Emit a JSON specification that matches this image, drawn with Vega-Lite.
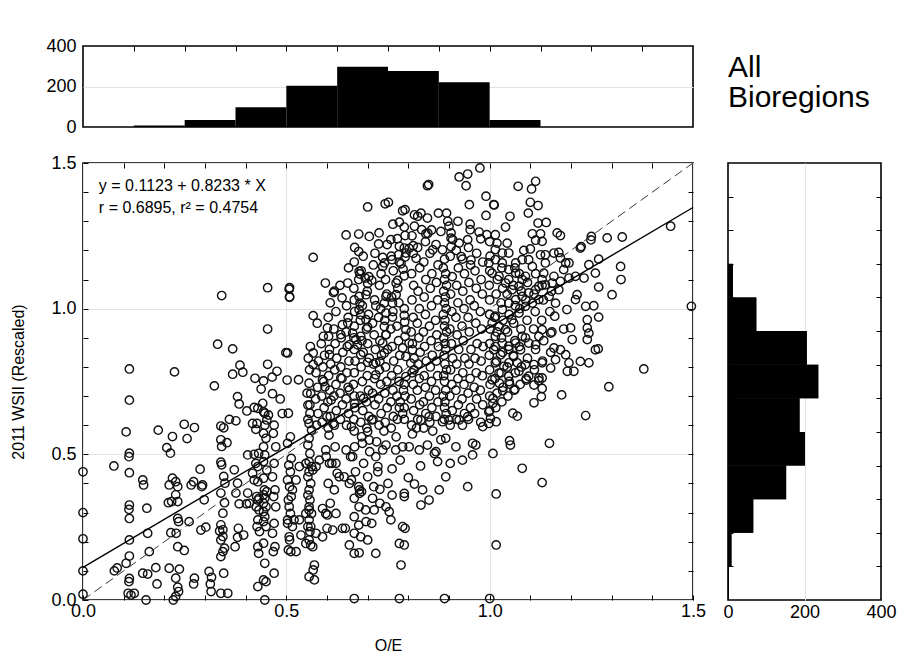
{
"$schema": "https://vega.github.io/schema/vega-lite/v6.json",
"background": "white",
"padding": {"left": 10, "top": 36, "right": 5, "bottom": 5},
"config": {
  "view": {"stroke": "black", "strokeWidth": 1.6},
  "axis": {"domain": false, "labelColor": "black", "tickColor": "black", "tickWidth": 1, "gridColor": "#e2e2e2", "gridWidth": 1, "labelFont": "Liberation Sans Narrow, Liberation Sans, sans-serif", "labelFontSize": 18, "titleFont": "Liberation Sans, sans-serif", "titleFontSize": 16, "titleFontWeight": "normal", "titleColor": "black", "labelOverlap": false, "labelFlush": false}
},
"datasets": {
  "xhist": [
    {"x0": 0.125, "x1": 0.25, "count": 7},
    {"x0": 0.25, "x1": 0.375, "count": 34},
    {"x0": 0.375, "x1": 0.5, "count": 97},
    {"x0": 0.5, "x1": 0.625, "count": 204},
    {"x0": 0.625, "x1": 0.75, "count": 297},
    {"x0": 0.75, "x1": 0.875, "count": 276},
    {"x0": 0.875, "x1": 1.0, "count": 221},
    {"x0": 1.0, "x1": 1.125, "count": 34}
  ],
  "yhist": [
    {"y0": 1.03846, "y1": 1.15385, "count": 13},
    {"y0": 0.92308, "y1": 1.03846, "count": 74},
    {"y0": 0.80769, "y1": 0.92308, "count": 206},
    {"y0": 0.69231, "y1": 0.80769, "count": 236},
    {"y0": 0.57692, "y1": 0.69231, "count": 187},
    {"y0": 0.46154, "y1": 0.57692, "count": 201},
    {"y0": 0.34615, "y1": 0.46154, "count": 152},
    {"y0": 0.23077, "y1": 0.34615, "count": 66},
    {"y0": 0.11538, "y1": 0.23077, "count": 9},
    {"y0": 0.0, "y1": 0.11538, "count": 2}
  ],
  "fit": [{"x": 0, "y": 0.1123}, {"x": 1.5, "y": 1.34725}],
  "diag": [{"x": 0, "y": 0}, {"x": 1.5, "y": 1.5}],
  "eq": [
    {"x": 0.039, "y": 1.421, "label": "y = 0.1123 + 0.8233 * X"},
    {"x": 0.039, "y": 1.346, "label": "r = 0.6895, r² = 0.4754"}
  ],
  "title": [{"label": "All\nBioregions"}],
  "points": [
{"x":0,"y":0.44},{"x":0,"y":0.30},{"x":0,"y":0.21},{"x":0,"y":0.10},{"x":0,"y":0.02},{"x":0.076,"y":0.46},{"x":0.077,"y":0.10},{"x":0.084,"y":0.11},{"x":0.106,"y":0.126},{"x":0.106,"y":0.577},
{"x":0.114,"y":0.793},{"x":0.114,"y":0.686},{"x":0.114,"y":0.504},{"x":0.113,"y":0.492},{"x":0.114,"y":0.437},{"x":0.114,"y":0.326},{"x":0.113,"y":0.311},{"x":0.114,"y":0.280},{"x":0.114,"y":0.206},{"x":0.114,"y":0.151},{"x":0.114,"y":0.074},{"x":0.113,"y":0.063},{"x":0.111,"y":0.023},{"x":0.118,"y":0.017},{"x":0.126,"y":0.023},
{"x":0.147,"y":0.412},{"x":0.149,"y":0.395},{"x":0.157,"y":0.315},{"x":0.159,"y":0.229},{"x":0.163,"y":0.166},{"x":0.147,"y":0.092},{"x":0.159,"y":0.089},{"x":0.179,"y":0.111},{"x":0.182,"y":0.055},{"x":0.155,"y":0.0},{"x":0.185,"y":0.583},
{"x":0.206,"y":0.523},{"x":0.215,"y":0.504},{"x":0.22,"y":0.561},{"x":0.212,"y":0.395},{"x":0.22,"y":0.418},{"x":0.228,"y":0.406},{"x":0.233,"y":0.389},{"x":0.228,"y":0.361},{"x":0.233,"y":0.338},{"x":0.21,"y":0.334},{"x":0.218,"y":0.338},{"x":0.233,"y":0.28},{"x":0.235,"y":0.269},{"x":0.216,"y":0.231},{"x":0.229,"y":0.229},{"x":0.233,"y":0.183},{"x":0.249,"y":0.17},{"x":0.212,"y":0.109},{"x":0.237,"y":0.106},{"x":0.228,"y":0.075},{"x":0.233,"y":0.044},{"x":0.235,"y":0.029},{"x":0.228,"y":0.012},{"x":0.225,"y":0.783},{"x":0.222,"y":0.0},
{"x":0.249,"y":0.603},{"x":0.274,"y":0.592},{"x":0.256,"y":0.554},{"x":0.266,"y":0.395},{"x":0.272,"y":0.406},{"x":0.288,"y":0.449},{"x":0.292,"y":0.389},{"x":0.294,"y":0.395},{"x":0.261,"y":0.269},{"x":0.298,"y":0.344},{"x":0.274,"y":0.075},{"x":0.272,"y":0.055},{"x":0.29,"y":0.24},{"x":0.302,"y":0.25},
{"x":0.31,"y":0.098},{"x":0.316,"y":0.078},{"x":0.313,"y":0.055},{"x":0.315,"y":0.029},{"x":0.339,"y":0.597},{"x":0.346,"y":0.591},{"x":0.36,"y":0.62},{"x":0.376,"y":0.615},{"x":0.339,"y":0.55},{"x":0.341,"y":0.527},{"x":0.354,"y":0.54},{"x":0.339,"y":0.473},{"x":0.341,"y":0.464},{"x":0.346,"y":0.424},{"x":0.349,"y":0.401},{"x":0.339,"y":0.367},{"x":0.348,"y":0.334},{"x":0.344,"y":0.298},{"x":0.339,"y":0.258},{"x":0.344,"y":0.241},{"x":0.336,"y":0.237},{"x":0.344,"y":0.218},{"x":0.339,"y":0.206},{"x":0.348,"y":0.178},{"x":0.344,"y":0.166},{"x":0.339,"y":0.149},{"x":0.346,"y":0.092},{"x":0.339,"y":0.023},{"x":0.356,"y":0.023},{"x":0.323,"y":0.735},{"x":0.331,"y":0.878},{"x":0.368,"y":0.862},{"x":0.341,"y":1.045},
{"x":0.372,"y":0.447},{"x":0.38,"y":0.401},{"x":0.376,"y":0.367},{"x":0.384,"y":0.33},{"x":0.382,"y":0.246},{"x":0.38,"y":0.215},{"x":0.395,"y":0.223},{"x":0.374,"y":0.183},{"x":0.405,"y":0.367},{"x":0.402,"y":0.33},{"x":0.409,"y":0.332},{"x":0.43,"y":0.406},{"x":0.405,"y":0.498},{"x":0.421,"y":0.5},{"x":0.425,"y":0.469},{"x":0.417,"y":0.435},{"x":0.421,"y":0.412},{"x":0.38,"y":0.698},{"x":0.384,"y":0.673},{"x":0.403,"y":0.649},{"x":0.421,"y":0.661},{"x":0.442,"y":0.675},{"x":0.386,"y":0.806},{"x":0.368,"y":0.775},{"x":0.393,"y":0.782},{"x":0.417,"y":0.606},{"x":0.425,"y":0.586},
{"x":0.444,"y":0.646},{"x":0.447,"y":0.641},{"x":0.452,"y":0.618},{"x":0.447,"y":0.6},{"x":0.444,"y":0.572},{"x":0.45,"y":0.555},{"x":0.444,"y":0.526},{"x":0.447,"y":0.498},{"x":0.444,"y":0.475},{"x":0.452,"y":0.446},{"x":0.444,"y":0.418},{"x":0.446,"y":0.378},{"x":0.452,"y":0.372},{"x":0.444,"y":0.361},{"x":0.447,"y":0.349},{"x":0.444,"y":0.332},{"x":0.45,"y":0.32},{"x":0.444,"y":0.303},{"x":0.447,"y":0.286},{"x":0.444,"y":0.269},{"x":0.45,"y":0.252},{"x":0.444,"y":0.195},{"x":0.447,"y":0.126},{"x":0.444,"y":0.069},{"x":0.45,"y":0.063},{"x":0.447,"y":0.0},
{"x":0.43,"y":0.658},{"x":0.428,"y":0.606},{"x":0.432,"y":0.503},{"x":0.43,"y":0.458},{"x":0.427,"y":0.355},{"x":0.433,"y":0.349},{"x":0.43,"y":0.343},{"x":0.426,"y":0.32},{"x":0.433,"y":0.309},{"x":0.43,"y":0.275},{"x":0.428,"y":0.252},{"x":0.434,"y":0.235},{"x":0.43,"y":0.183},{"x":0.432,"y":0.16},{"x":0.43,"y":0.046},
{"x":0.47,"y":0.6},{"x":0.468,"y":0.572},{"x":0.474,"y":0.526},{"x":0.47,"y":0.469},{"x":0.466,"y":0.423},{"x":0.472,"y":0.378},{"x":0.469,"y":0.355},{"x":0.474,"y":0.32},{"x":0.47,"y":0.263},{"x":0.466,"y":0.229},{"x":0.472,"y":0.183},{"x":0.468,"y":0.166},{"x":0.47,"y":0.092},
{"x":0.454,"y":0.93},{"x":0.454,"y":0.809},{"x":0.423,"y":0.761},{"x":0.444,"y":0.752},{"x":0.465,"y":0.765},{"x":0.477,"y":0.785},{"x":0.499,"y":0.849},{"x":0.454,"y":1.072},{"x":0.508,"y":1.072},{"x":0.508,"y":1.041},{"x":0.456,"y":0.635},{"x":0.466,"y":0.708},{"x":0.438,"y":0.724},{"x":0.485,"y":0.69},{"x":0.49,"y":0.64},
{"x":0.502,"y":0.755},{"x":0.505,"y":0.641},{"x":0.51,"y":0.56},{"x":0.503,"y":0.538},{"x":0.512,"y":0.486},{"x":0.506,"y":0.463},{"x":0.51,"y":0.44},{"x":0.503,"y":0.412},{"x":0.508,"y":0.389},{"x":0.512,"y":0.355},{"x":0.505,"y":0.343},{"x":0.51,"y":0.297},{"x":0.503,"y":0.263},{"x":0.508,"y":0.206},{"x":0.505,"y":0.172},{"x":0.511,"y":0.166},{"x":0.524,"y":0.412},{"x":0.515,"y":0.378},{"x":0.507,"y":0.32},{"x":0.503,"y":0.275},{"x":0.515,"y":0.252},{"x":0.507,"y":0.217},{"x":0.519,"y":0.275},{"x":0.532,"y":0.275},{"x":0.532,"y":0.458},{"x":0.507,"y":1.067},{"x":0.508,"y":1.039},{"x":0.503,"y":0.848},{"x":0.53,"y":0.756},{"x":0.524,"y":0.166},{"x":0.536,"y":0.223},{"x":0.548,"y":0.194},{"x":0.565,"y":0.183},{"x":0.56,"y":0.252},
{"x":0.556,"y":0.744},{"x":0.56,"y":0.709},{"x":0.553,"y":0.669},{"x":0.558,"y":0.641},{"x":0.556,"y":0.606},{"x":0.562,"y":0.583},{"x":0.556,"y":0.555},{"x":0.553,"y":0.532},{"x":0.558,"y":0.503},{"x":0.556,"y":0.475},{"x":0.562,"y":0.458},{"x":0.556,"y":0.44},{"x":0.553,"y":0.423},{"x":0.56,"y":0.4},{"x":0.556,"y":0.378},{"x":0.553,"y":0.36},{"x":0.558,"y":0.343},{"x":0.556,"y":0.32},{"x":0.562,"y":0.297},{"x":0.556,"y":0.275},{"x":0.553,"y":0.252},{"x":0.558,"y":0.235},{"x":0.556,"y":0.206},{"x":0.56,"y":0.189},{"x":0.569,"y":0.12},{"x":0.566,"y":0.103},{"x":0.556,"y":0.08},{"x":0.569,"y":0.069},{"x":0.566,"y":1.176},{"x":0.566,"y":0.976},{"x":0.566,"y":0.848},{"x":0.566,"y":0.808},{"x":0.591,"y":0.905},{"x":0.601,"y":0.934},{"x":0.604,"y":0.905},{"x":0.596,"y":1.088},{"x":0.589,"y":0.756},
{"x":0.595,"y":0.732},{"x":0.61,"y":0.686},{"x":0.6,"y":0.629},{"x":0.615,"y":0.606},{"x":0.605,"y":0.566},{"x":0.62,"y":0.526},{"x":0.598,"y":0.492},{"x":0.612,"y":0.469},{"x":0.625,"y":0.435},{"x":0.603,"y":0.4},{"x":0.618,"y":0.378},{"x":0.608,"y":0.332},{"x":0.622,"y":0.297},{"x":0.6,"y":0.246},{"x":0.614,"y":0.24},{"x":0.589,"y":0.217},{"x":0.618,"y":1.06},{"x":0.637,"y":1.037},{"x":0.616,"y":1.055},{"x":0.634,"y":0.911},{"x":0.638,"y":0.945},{"x":0.606,"y":0.842},{"x":0.634,"y":0.762},{"x":0.651,"y":0.951},{"x":0.651,"y":1.088},{"x":0.647,"y":1.253},{"x":0.597,"y":0.297},{"x":0.601,"y":0.292},{"x":0.589,"y":0.314},{"x":0.556,"y":0.309},{"x":0.573,"y":0.229},{"x":0.548,"y":0.297},
{"x":0.655,"y":0.721},{"x":0.69,"y":0.692},{"x":0.668,"y":0.675},{"x":0.71,"y":0.618},{"x":0.66,"y":0.595},{"x":0.7,"y":0.578},{"x":0.685,"y":0.56},{"x":0.722,"y":0.543},{"x":0.668,"y":0.526},{"x":0.705,"y":0.509},{"x":0.658,"y":0.492},{"x":0.69,"y":0.469},{"x":0.725,"y":0.458},{"x":0.67,"y":0.44},{"x":0.7,"y":0.423},{"x":0.66,"y":0.412},{"x":0.715,"y":0.389},{"x":0.685,"y":0.372},{"x":0.667,"y":0.349},{"x":0.73,"y":0.332},{"x":0.695,"y":0.309},{"x":0.667,"y":0.286},{"x":0.71,"y":0.263},{"x":0.667,"y":0.229},{"x":0.7,"y":0.206},{"x":0.667,"y":0.16},
{"x":0.667,"y":0.005},{"x":0.778,"y":0.005},{"x":0.889,"y":0.005},{"x":1.0,"y":0.005},
{"x":0.72,"y":0.16},{"x":0.679,"y":0.162},{"x":0.655,"y":0.189},{"x":0.683,"y":0.217},{"x":0.696,"y":0.269},{"x":0.678,"y":0.257},{"x":0.638,"y":0.246},{"x":0.645,"y":0.246},{"x":0.716,"y":0.309},{"x":0.712,"y":0.349},{"x":0.679,"y":0.32},{"x":0.678,"y":0.389},{"x":0.68,"y":0.378},{"x":0.68,"y":0.366},{"x":0.655,"y":0.4},{"x":0.642,"y":0.423},{"x":0.63,"y":0.423},
{"x":0.663,"y":0.916},{"x":0.671,"y":0.894},{"x":0.683,"y":0.905},{"x":0.655,"y":0.876},{"x":0.675,"y":0.876},{"x":0.683,"y":0.842},{"x":0.7,"y":0.816},{"x":0.72,"y":0.814},{"x":0.679,"y":1.042},{"x":0.681,"y":1.019},{"x":0.679,"y":0.997},{"x":0.683,"y":0.979},{"x":0.696,"y":1.048},{"x":0.72,"y":1.01},{"x":0.679,"y":1.128},{"x":0.681,"y":1.119},{"x":0.694,"y":1.105},{"x":0.71,"y":1.097},{"x":0.7,"y":1.086},{"x":0.678,"y":1.1},{"x":0.678,"y":1.196},{"x":0.678,"y":1.256},{"x":0.704,"y":1.248},{"x":0.727,"y":1.222},{"x":0.7,"y":1.349},{"x":0.696,"y":0.962},{"x":0.7,"y":0.937},{"x":0.72,"y":0.773},
{"x":0.743,"y":1.36},{"x":0.751,"y":1.365},{"x":0.786,"y":1.336},{"x":0.792,"y":1.34},{"x":0.757,"y":1.237},{"x":0.737,"y":1.176},{"x":0.741,"y":1.157},{"x":0.737,"y":1.145},{"x":0.76,"y":1.168},{"x":0.776,"y":1.185},{"x":0.794,"y":1.191},{"x":0.741,"y":1.019},{"x":0.761,"y":1.019},{"x":0.745,"y":1.042},{"x":0.77,"y":1.048},{"x":0.745,"y":0.985},{"x":0.761,"y":0.971},{"x":0.741,"y":0.939},{"x":0.745,"y":0.911},{"x":0.737,"y":0.882},{"x":0.741,"y":0.848},{"x":0.73,"y":0.819},{"x":0.778,"y":1.297},{"x":0.79,"y":1.28},{"x":0.792,"y":1.251},{"x":0.778,"y":1.214},{"x":0.79,"y":1.208},{"x":0.812,"y":1.216},{"x":0.792,"y":1.177},{"x":0.782,"y":1.154},{"x":0.787,"y":1.136},{"x":0.79,"y":1.113},{"x":0.774,"y":1.097},{"x":0.77,"y":1.088},
{"x":0.79,"y":1.0},{"x":0.79,"y":0.977},{"x":0.791,"y":0.954},{"x":0.794,"y":0.928},{"x":0.792,"y":0.905},{"x":0.802,"y":0.882},{"x":0.81,"y":0.859},{"x":0.786,"y":0.865},{"x":0.794,"y":0.836},{"x":0.806,"y":0.813},{"x":0.814,"y":0.79},{"x":0.794,"y":0.767},{"x":0.79,"y":0.74},{"x":0.788,"y":0.72},{"x":0.792,"y":0.7},{"x":0.78,"y":0.68},{"x":0.79,"y":0.66},{"x":0.786,"y":0.64},{"x":0.79,"y":0.62},
{"x":0.745,"y":0.32},{"x":0.753,"y":0.303},{"x":0.757,"y":0.275},{"x":0.79,"y":0.366},{"x":0.79,"y":0.355},{"x":0.786,"y":0.252},{"x":0.792,"y":0.246},{"x":0.778,"y":0.194},{"x":0.79,"y":0.189},{"x":0.782,"y":0.12},{"x":0.786,"y":0.526},{"x":0.769,"y":0.515},{"x":0.745,"y":0.532},{"x":0.737,"y":0.515},{"x":0.72,"y":0.492},{"x":0.704,"y":0.549},{"x":0.687,"y":0.538},{"x":0.663,"y":0.492},{"x":0.647,"y":0.515},{"x":0.622,"y":0.469},{"x":0.597,"y":0.515},{"x":0.606,"y":0.469},{"x":0.581,"y":0.48},{"x":0.573,"y":0.458},{"x":0.565,"y":0.446},{"x":0.548,"y":0.469},
{"x":0.76,"y":0.45},{"x":0.75,"y":0.4},{"x":0.77,"y":0.56},{"x":0.81,"y":0.57},{"x":0.83,"y":0.46},{"x":0.8,"y":0.42},{"x":0.86,"y":0.58},{"x":0.88,"y":0.55},{"x":0.82,"y":0.59},{"x":0.78,"y":0.48},{"x":0.74,"y":0.58},{"x":0.725,"y":0.44},{"x":0.73,"y":0.38},{"x":0.76,"y":0.36},
{"x":0.823,"y":1.317},{"x":0.831,"y":1.328},{"x":0.847,"y":1.311},{"x":0.815,"y":1.283},{"x":0.833,"y":1.271},{"x":0.843,"y":1.257},{"x":0.874,"y":1.328},{"x":0.894,"y":1.328},{"x":0.897,"y":1.3},{"x":0.9,"y":1.283},{"x":0.905,"y":1.26},{"x":0.909,"y":1.237},{"x":0.847,"y":1.422},{"x":0.85,"y":1.426},{"x":0.815,"y":1.322},{"x":0.848,"y":1.259},{"x":0.88,"y":1.265},{"x":0.905,"y":1.242},{"x":0.802,"y":1.207},{"x":0.819,"y":1.173},{"x":0.86,"y":1.202},{"x":0.884,"y":1.202},{"x":0.905,"y":1.213},
{"x":0.889,"y":1.17},{"x":0.886,"y":1.14},{"x":0.892,"y":1.12},{"x":0.889,"y":1.1},{"x":0.894,"y":1.08},{"x":0.887,"y":1.06},{"x":0.891,"y":1.04},{"x":0.889,"y":1.02},{"x":0.893,"y":1.0},{"x":0.886,"y":0.98},{"x":0.89,"y":0.96},{"x":0.889,"y":0.94},{"x":0.894,"y":0.92},{"x":0.887,"y":0.9},{"x":0.89,"y":0.88},{"x":0.892,"y":0.86},{"x":0.888,"y":0.84},{"x":0.89,"y":0.81},{"x":0.894,"y":0.79},{"x":0.887,"y":0.77},{"x":0.889,"y":0.75},{"x":0.892,"y":0.72},{"x":0.886,"y":0.7},{"x":0.89,"y":0.68},{"x":0.889,"y":0.66},{"x":0.893,"y":0.64},{"x":0.888,"y":0.62},
{"x":0.831,"y":0.618},{"x":0.851,"y":0.629},{"x":0.884,"y":0.612},{"x":0.9,"y":0.618},{"x":0.868,"y":0.509},{"x":0.847,"y":0.532},{"x":0.827,"y":0.515},{"x":0.802,"y":0.526},{"x":0.892,"y":0.555},{"x":0.872,"y":0.475},{"x":0.864,"y":0.503},{"x":0.835,"y":0.378},{"x":0.831,"y":0.326},{"x":0.851,"y":0.343},{"x":0.876,"y":0.378},{"x":0.815,"y":0.398},{"x":0.892,"y":0.423},{"x":0.903,"y":0.469},
{"x":0.925,"y":1.452},{"x":0.946,"y":1.462},{"x":0.942,"y":1.422},{"x":0.976,"y":1.483},{"x":0.95,"y":1.357},{"x":0.991,"y":1.386},{"x":0.991,"y":1.32},{"x":0.925,"y":1.225},{"x":0.946,"y":1.237},{"x":0.952,"y":1.271},{"x":0.974,"y":1.263},{"x":0.993,"y":1.254},{"x":0.954,"y":1.167},{"x":0.93,"y":1.179},{"x":1.011,"y":1.356},{"x":0.946,"y":0.389},{"x":0.958,"y":0.498},{"x":0.933,"y":0.48},{"x":0.925,"y":0.618},{"x":0.946,"y":0.629},{"x":0.983,"y":0.595},{"x":0.958,"y":0.538},{"x":0.966,"y":0.532},{"x":0.917,"y":0.526},
{"x":1.008,"y":0.503},{"x":1.016,"y":0.364},{"x":1.016,"y":0.189},{"x":1.08,"y":0.452},{"x":1.129,"y":0.403},{"x":1.049,"y":0.547},{"x":1.051,"y":0.532},{"x":1.147,"y":0.538},{"x":1.024,"y":0.744},{"x":1.049,"y":0.741},{"x":1.109,"y":0.738},{"x":1.121,"y":0.753},{"x":1.129,"y":0.726},{"x":1.09,"y":0.755},{"x":1.032,"y":0.718},{"x":1.062,"y":0.723},{"x":1.008,"y":0.692},{"x":1.008,"y":0.675},{"x":0.998,"y":0.646},{"x":1.002,"y":0.623},{"x":1.016,"y":0.612},{"x":0.998,"y":0.606},{"x":1.109,"y":0.677},{"x":1.127,"y":0.698},{"x":1.177,"y":0.704},{"x":1.293,"y":0.732},{"x":1.236,"y":0.633},{"x":1.057,"y":0.641},{"x":1.068,"y":0.631},
{"x":1.113,"y":1.437},{"x":1.103,"y":1.411},{"x":1.07,"y":1.42},{"x":1.01,"y":1.357},{"x":1.1,"y":1.365},{"x":1.119,"y":1.354},{"x":1.095,"y":1.328},{"x":1.05,"y":1.317},{"x":1.119,"y":1.294},{"x":1.139,"y":1.296},{"x":1.039,"y":1.28},{"x":1.105,"y":1.257},{"x":1.125,"y":1.257},{"x":1.129,"y":1.231},{"x":1.113,"y":1.235},{"x":1.166,"y":1.26},{"x":1.174,"y":1.251},{"x":1.014,"y":1.254},{"x":1.043,"y":1.225},{"x":1.018,"y":1.225},{"x":1.084,"y":1.2},{"x":1.1,"y":1.205},{"x":1.125,"y":1.185},{"x":1.137,"y":1.185},{"x":1.158,"y":1.191},{"x":1.17,"y":1.193},{"x":1.174,"y":1.174},{"x":1.25,"y":1.248},{"x":1.289,"y":1.243},{"x":1.326,"y":1.246},{"x":1.445,"y":1.283},{"x":1.223,"y":1.208},{"x":1.268,"y":1.17},{"x":1.244,"y":1.151},{"x":1.232,"y":1.105},{"x":1.26,"y":1.122},{"x":1.322,"y":1.145},{"x":1.323,"y":1.1},{"x":1.268,"y":1.074},{"x":1.301,"y":1.048},{"x":1.187,"y":1.157},{"x":1.195,"y":1.157},{"x":1.182,"y":1.134},{"x":1.137,"y":1.157},{"x":1.133,"y":1.122},{"x":1.158,"y":1.111},{"x":1.174,"y":1.094},{"x":1.195,"y":1.105},{"x":1.211,"y":1.111},{"x":1.215,"y":1.048},{"x":1.211,"y":1.031},{"x":1.236,"y":1.008},{"x":1.256,"y":1.01},{"x":1.268,"y":0.971},{"x":1.496,"y":1.008},{"x":1.379,"y":0.793},{"x":1.225,"y":1.213},{"x":1.249,"y":1.236},
{"x":1.16,"y":0.974},{"x":1.19,"y":0.997},{"x":1.182,"y":0.93},{"x":1.199,"y":0.934},{"x":1.203,"y":0.894},{"x":1.24,"y":0.962},{"x":1.24,"y":0.934},{"x":1.244,"y":0.916},{"x":1.24,"y":0.894},{"x":1.26,"y":0.859},{"x":1.267,"y":0.862},{"x":1.223,"y":0.819},{"x":1.244,"y":0.814},{"x":1.174,"y":0.859},{"x":1.187,"y":0.842},{"x":1.195,"y":0.814},{"x":1.162,"y":0.825},{"x":1.158,"y":0.865},{"x":1.15,"y":0.916},{"x":1.129,"y":0.928},{"x":1.121,"y":0.905},{"x":1.096,"y":0.882},{"x":1.113,"y":0.876},{"x":1.08,"y":0.905},{"x":1.076,"y":0.859},{"x":1.059,"y":0.836},{"x":1.047,"y":0.814},{"x":1.035,"y":0.802},{"x":1.014,"y":0.814},{"x":1.088,"y":0.808},{"x":1.109,"y":0.808},{"x":1.129,"y":0.814},{"x":1.096,"y":0.768},{"x":1.121,"y":0.762},{"x":1.129,"y":0.762},{"x":1.207,"y":0.785},{"x":1.191,"y":0.785},{"x":1.15,"y":0.796},
{"x":1.129,"y":1.1},{"x":1.137,"y":1.082},{"x":1.121,"y":1.077},{"x":1.113,"y":1.065},{"x":1.096,"y":1.054},{"x":1.08,"y":1.042},{"x":1.064,"y":1.031},{"x":1.047,"y":1.019},{"x":1.031,"y":0.997},{"x":1.014,"y":0.974},{"x":1.006,"y":0.951},{"x":1.023,"y":0.939},{"x":1.039,"y":0.928},{"x":1.055,"y":0.962},{"x":1.072,"y":0.985},{"x":1.088,"y":1.008},{"x":1.105,"y":1.019},{"x":1.121,"y":1.031},{"x":1.146,"y":1.042},{"x":1.162,"y":1.019},{"x":1.17,"y":1.065},{"x":1.154,"y":1.088},{"x":1.08,"y":1.1},{"x":1.064,"y":1.122},{"x":1.047,"y":1.134},{"x":1.031,"y":1.157},{"x":1.014,"y":1.168},{"x":0.998,"y":1.157},{"x":1.006,"y":1.122},{"x":1.023,"y":1.111},{"x":1.039,"y":1.088},{"x":1.055,"y":1.065},{"x":1.072,"y":1.077},{"x":1.088,"y":1.111},{"x":1.105,"y":1.145},{"x":1.096,"y":1.168},{"x":1.08,"y":1.168},{"x":1.064,"y":1.157},{"x":1.047,"y":1.191},{"x":1.031,"y":1.191},{"x":1.014,"y":1.203},
{"x":1.014,"y":0.905},{"x":1.031,"y":0.882},{"x":1.047,"y":0.871},{"x":1.064,"y":0.882},{"x":1.01,"y":0.859},{"x":1.027,"y":0.842},{"x":1.068,"y":0.814},{"x":1.072,"y":0.785},{"x":1.047,"y":0.768},{"x":1.023,"y":0.779},{"x":1.006,"y":0.756},
{"x":0.553,"y":0.62},{"x":0.558,"y":0.67},{"x":0.551,"y":0.71},{"x":0.557,"y":0.79},{"x":0.554,"y":0.83},{"x":0.559,"y":0.87},
{"x":0.574,"y":0.6},{"x":0.578,"y":0.64},{"x":0.572,"y":0.69},{"x":0.577,"y":0.73},{"x":0.573,"y":0.78},{"x":0.579,"y":0.82},{"x":0.576,"y":0.95},
{"x":0.588,"y":0.61},{"x":0.593,"y":0.66},{"x":0.587,"y":0.7},{"x":0.592,"y":0.75},{"x":0.59,"y":0.8},{"x":0.594,"y":0.84},{"x":0.586,"y":0.88},
{"x":0.603,"y":0.59},{"x":0.608,"y":0.63},{"x":0.602,"y":0.68},{"x":0.607,"y":0.72},{"x":0.604,"y":0.77},{"x":0.609,"y":0.81},{"x":0.606,"y":0.86},{"x":0.603,"y":0.97},{"x":0.608,"y":1.02},
{"x":0.618,"y":0.6},{"x":0.623,"y":0.65},{"x":0.617,"y":0.7},{"x":0.622,"y":0.74},{"x":0.619,"y":0.79},{"x":0.624,"y":0.83},{"x":0.62,"y":0.88},{"x":0.617,"y":0.93},{"x":0.622,"y":0.99},
{"x":0.633,"y":0.62},{"x":0.638,"y":0.67},{"x":0.632,"y":0.71},{"x":0.637,"y":0.76},{"x":0.634,"y":0.8},{"x":0.639,"y":0.85},{"x":0.635,"y":0.9},{"x":0.632,"y":1.08},
{"x":0.648,"y":0.6},{"x":0.653,"y":0.64},{"x":0.647,"y":0.69},{"x":0.652,"y":0.73},{"x":0.649,"y":0.78},{"x":0.654,"y":0.82},{"x":0.65,"y":0.87},{"x":0.647,"y":0.92},{"x":0.652,"y":0.97},{"x":0.648,"y":1.01},{"x":0.653,"y":1.14},
{"x":0.667,"y":0.58},{"x":0.666,"y":0.62},{"x":0.668,"y":0.66},{"x":0.667,"y":0.7},{"x":0.665,"y":0.74},{"x":0.667,"y":0.78},{"x":0.669,"y":0.82},{"x":0.667,"y":0.86},{"x":0.666,"y":0.9},{"x":0.667,"y":0.94},{"x":0.668,"y":0.99},{"x":0.667,"y":1.03},{"x":0.666,"y":1.07},{"x":0.667,"y":1.16},{"x":0.668,"y":1.21},
{"x":0.683,"y":0.61},{"x":0.688,"y":0.65},{"x":0.682,"y":0.7},{"x":0.687,"y":0.75},{"x":0.684,"y":0.8},{"x":0.689,"y":0.85},{"x":0.686,"y":0.89},{"x":0.682,"y":0.96},{"x":0.687,"y":1.01},{"x":0.684,"y":1.13},{"x":0.689,"y":1.18},
{"x":0.698,"y":0.59},{"x":0.703,"y":0.63},{"x":0.697,"y":0.68},{"x":0.702,"y":0.72},{"x":0.699,"y":0.77},{"x":0.704,"y":0.83},{"x":0.7,"y":0.88},{"x":0.697,"y":0.93},{"x":0.702,"y":0.98},{"x":0.699,"y":1.06},{"x":0.703,"y":1.11},
{"x":0.713,"y":0.62},{"x":0.718,"y":0.67},{"x":0.712,"y":0.71},{"x":0.717,"y":0.76},{"x":0.714,"y":0.81},{"x":0.719,"y":0.86},{"x":0.716,"y":0.91},{"x":0.712,"y":0.95},{"x":0.717,"y":1.03},{"x":0.714,"y":1.15},{"x":0.718,"y":1.19},
{"x":0.728,"y":0.6},{"x":0.733,"y":0.64},{"x":0.727,"y":0.69},{"x":0.732,"y":0.74},{"x":0.729,"y":0.79},{"x":0.734,"y":0.84},{"x":0.73,"y":0.89},{"x":0.727,"y":0.97},{"x":0.732,"y":1.0},{"x":0.729,"y":1.08},{"x":0.733,"y":1.12},{"x":0.728,"y":1.26},
{"x":0.743,"y":0.61},{"x":0.748,"y":0.66},{"x":0.742,"y":0.71},{"x":0.747,"y":0.75},{"x":0.744,"y":0.8},{"x":0.749,"y":0.86},{"x":0.745,"y":0.91},{"x":0.742,"y":0.96},{"x":0.747,"y":1.05},{"x":0.744,"y":1.1},{"x":0.748,"y":1.22},
{"x":0.758,"y":0.59},{"x":0.763,"y":0.63},{"x":0.757,"y":0.68},{"x":0.762,"y":0.72},{"x":0.759,"y":0.77},{"x":0.764,"y":0.82},{"x":0.76,"y":0.87},{"x":0.757,"y":0.93},{"x":0.762,"y":0.99},{"x":0.759,"y":1.04},{"x":0.763,"y":1.13},{"x":0.758,"y":1.18},{"x":0.762,"y":1.29},
{"x":0.773,"y":0.62},{"x":0.778,"y":0.66},{"x":0.772,"y":0.7},{"x":0.777,"y":0.75},{"x":0.774,"y":0.79},{"x":0.779,"y":0.84},{"x":0.776,"y":0.89},{"x":0.772,"y":0.94},{"x":0.777,"y":1.02},{"x":0.774,"y":1.07},{"x":0.778,"y":1.16},{"x":0.773,"y":1.24},
{"x":0.808,"y":0.6},{"x":0.813,"y":0.65},{"x":0.807,"y":0.69},{"x":0.812,"y":0.74},{"x":0.809,"y":0.78},{"x":0.814,"y":0.83},{"x":0.81,"y":0.88},{"x":0.807,"y":0.92},{"x":0.812,"y":0.97},{"x":0.809,"y":1.03},{"x":0.813,"y":1.08},{"x":0.808,"y":1.12},{"x":0.812,"y":1.19},{"x":0.809,"y":1.25},
{"x":0.823,"y":0.62},{"x":0.828,"y":0.67},{"x":0.822,"y":0.72},{"x":0.827,"y":0.76},{"x":0.824,"y":0.81},{"x":0.829,"y":0.85},{"x":0.826,"y":0.9},{"x":0.822,"y":0.95},{"x":0.827,"y":1.0},{"x":0.824,"y":1.06},{"x":0.828,"y":1.14},{"x":0.823,"y":1.21},
{"x":0.838,"y":0.59},{"x":0.843,"y":0.64},{"x":0.837,"y":0.68},{"x":0.842,"y":0.73},{"x":0.839,"y":0.77},{"x":0.844,"y":0.82},{"x":0.84,"y":0.87},{"x":0.837,"y":0.92},{"x":0.842,"y":0.98},{"x":0.839,"y":1.04},{"x":0.843,"y":1.1},{"x":0.838,"y":1.16},{"x":0.842,"y":1.23},
{"x":0.853,"y":0.61},{"x":0.858,"y":0.66},{"x":0.852,"y":0.7},{"x":0.857,"y":0.75},{"x":0.854,"y":0.8},{"x":0.859,"y":0.84},{"x":0.856,"y":0.89},{"x":0.852,"y":0.94},{"x":0.857,"y":1.01},{"x":0.854,"y":1.07},{"x":0.858,"y":1.12},{"x":0.853,"y":1.19},{"x":0.857,"y":1.27},
{"x":0.868,"y":0.63},{"x":0.873,"y":0.68},{"x":0.867,"y":0.72},{"x":0.872,"y":0.77},{"x":0.869,"y":0.82},{"x":0.874,"y":0.87},{"x":0.87,"y":0.91},{"x":0.867,"y":0.96},{"x":0.872,"y":1.03},{"x":0.869,"y":1.09},{"x":0.873,"y":1.15},{"x":0.868,"y":1.22},
{"x":0.903,"y":0.6},{"x":0.908,"y":0.65},{"x":0.902,"y":0.7},{"x":0.907,"y":0.74},{"x":0.904,"y":0.79},{"x":0.909,"y":0.83},{"x":0.906,"y":0.88},{"x":0.902,"y":0.93},{"x":0.907,"y":0.99},{"x":0.904,"y":1.05},{"x":0.908,"y":1.11},{"x":0.903,"y":1.18},
{"x":0.918,"y":0.62},{"x":0.923,"y":0.67},{"x":0.917,"y":0.72},{"x":0.922,"y":0.76},{"x":0.919,"y":0.81},{"x":0.924,"y":0.86},{"x":0.92,"y":0.91},{"x":0.917,"y":0.97},{"x":0.922,"y":1.02},{"x":0.919,"y":1.08},{"x":0.923,"y":1.14},{"x":0.918,"y":1.2},{"x":0.922,"y":1.3},
{"x":0.933,"y":0.6},{"x":0.938,"y":0.64},{"x":0.932,"y":0.69},{"x":0.937,"y":0.74},{"x":0.934,"y":0.78},{"x":0.939,"y":0.83},{"x":0.935,"y":0.89},{"x":0.932,"y":0.94},{"x":0.937,"y":1.0},{"x":0.934,"y":1.06},{"x":0.938,"y":1.12},{"x":0.933,"y":1.17},
{"x":0.948,"y":0.62},{"x":0.953,"y":0.66},{"x":0.947,"y":0.71},{"x":0.952,"y":0.76},{"x":0.949,"y":0.81},{"x":0.954,"y":0.86},{"x":0.95,"y":0.92},{"x":0.947,"y":0.97},{"x":0.952,"y":1.03},{"x":0.949,"y":1.09},{"x":0.953,"y":1.15},{"x":0.948,"y":1.21},{"x":0.952,"y":1.29},
{"x":0.963,"y":0.64},{"x":0.968,"y":0.69},{"x":0.962,"y":0.73},{"x":0.967,"y":0.78},{"x":0.964,"y":0.83},{"x":0.969,"y":0.88},{"x":0.966,"y":0.95},{"x":0.962,"y":1.01},{"x":0.967,"y":1.07},{"x":0.964,"y":1.13},{"x":0.968,"y":1.19},
{"x":0.978,"y":0.61},{"x":0.983,"y":0.67},{"x":0.977,"y":0.72},{"x":0.982,"y":0.77},{"x":0.979,"y":0.82},{"x":0.984,"y":0.87},{"x":0.98,"y":0.93},{"x":0.977,"y":0.99},{"x":0.982,"y":1.05},{"x":0.979,"y":1.1},{"x":0.983,"y":1.16},{"x":0.978,"y":1.24},
{"x":1.0,"y":0.65},{"x":1.0,"y":0.7},{"x":1.001,"y":0.74},{"x":1.0,"y":0.79},{"x":0.999,"y":0.84},{"x":1.0,"y":0.88},{"x":1.001,"y":0.93},{"x":1.0,"y":0.98},{"x":1.0,"y":1.03},{"x":0.999,"y":1.08},{"x":1.0,"y":1.13},{"x":1.001,"y":1.18},{"x":1.0,"y":1.23},
{"x":1.015,"y":0.66},{"x":1.018,"y":0.71},{"x":1.013,"y":0.76},{"x":1.017,"y":0.82},{"x":1.014,"y":0.87},{"x":1.018,"y":0.92},{"x":1.012,"y":0.97},{"x":1.016,"y":1.05},{"x":1.019,"y":1.1},
{"x":1.03,"y":0.68},{"x":1.033,"y":0.73},{"x":1.028,"y":0.78},{"x":1.032,"y":0.85},{"x":1.029,"y":0.9},{"x":1.033,"y":0.96},{"x":1.028,"y":1.02},{"x":1.032,"y":1.07},{"x":1.03,"y":1.14},
{"x":1.045,"y":0.7},{"x":1.048,"y":0.75},{"x":1.043,"y":0.8},{"x":1.047,"y":0.86},{"x":1.044,"y":0.92},{"x":1.048,"y":0.98},{"x":1.043,"y":1.05},{"x":1.047,"y":1.1},
{"x":1.06,"y":0.72},{"x":1.063,"y":0.78},{"x":1.058,"y":0.84},{"x":1.062,"y":0.89},{"x":1.059,"y":0.95},{"x":1.063,"y":1.01},{"x":1.058,"y":1.08},{"x":1.062,"y":1.14},
{"x":1.075,"y":0.74},{"x":1.078,"y":0.8},{"x":1.073,"y":0.87},{"x":1.077,"y":0.93},{"x":1.074,"y":1.0},{"x":1.078,"y":1.06},{"x":1.073,"y":1.12},
{"x":1.09,"y":0.76},{"x":1.093,"y":0.83},{"x":1.088,"y":0.9},{"x":1.092,"y":0.96},{"x":1.089,"y":1.03},{"x":1.093,"y":1.09},
{"x":1.11,"y":0.79},{"x":1.113,"y":0.86},{"x":1.108,"y":0.93},{"x":1.112,"y":0.99},{"x":1.109,"y":1.05},{"x":1.113,"y":1.12},
{"x":1.13,"y":0.82},{"x":1.133,"y":0.89},{"x":1.128,"y":0.96},{"x":1.132,"y":1.03},{"x":1.129,"y":1.08},
{"x":1.15,"y":0.85},{"x":1.153,"y":0.92},{"x":1.148,"y":0.99},{"x":1.152,"y":1.06}
  ]
},
"columns": 2,
"spacing": {"row": 36, "column": 35},
"bounds": "flush",
"align": "each",
"concat": [
  {
    "width": 610, "height": 81,
    "data": {"name": "xhist"},
    "mark": {"type": "rect", "color": "black"},
    "encoding": {
      "x": {"field": "x0", "type": "quantitative", "scale": {"domain": [0, 1.5], "nice": false, "zero": false},
            "axis": {"orient": "top", "values": [0.125, 0.25, 0.375, 0.5, 0.625, 0.75, 0.875, 1, 1.125, 1.25, 1.375], "labels": false, "title": null, "grid": false, "tickSize": -5}},
      "x2": {"field": "x1"},
      "y": {"field": "count", "type": "quantitative", "scale": {"domain": [0, 400], "nice": false},
            "axis": {"values": [0, 200, 400], "title": null, "ticks": false, "grid": true, "gridOpacity": {"condition": {"test": "datum.value == 200", "value": 1}, "value": 0}, "labelPadding": 7}},
      "y2": {"datum": 0}
    }
  },
  {
    "width": 153, "height": 81,
    "view": {"stroke": null},
    "data": {"name": "title"},
    "mark": {"type": "text", "align": "left", "baseline": "middle", "font": "Liberation Sans, sans-serif", "fontSize": 30, "lineHeight": 30, "lineBreak": "\n", "color": "black"},
    "encoding": {
      "x": {"datum": 0, "type": "quantitative", "scale": {"domain": [0, 1]}, "axis": null},
      "y": {"datum": 0.73, "type": "quantitative", "scale": {"domain": [0, 1]}, "axis": null},
      "text": {"field": "label"}
    }
  },
  {
    "width": 610, "height": 437,
    "layer": [
      {
        "data": {"name": "points"},
        "mark": {"type": "point", "shape": "circle", "filled": false, "stroke": "#111111", "strokeWidth": 1.4, "size": 70, "opacity": 1},
        "encoding": {
          "x": {"field": "x", "type": "quantitative", "scale": {"domain": [0, 1.5], "nice": false, "zero": false},
                "axis": {"orient": "bottom", "values": [0, 0.1, 0.2, 0.3, 0.4, 0.5, 0.6, 0.7, 0.8, 0.9, 1, 1.1, 1.2, 1.3, 1.4, 1.5],
                         "labelExpr": "round(datum.value*10) % 5 == 0 ? format(datum.value, '.1f') : ''",
                         "grid": true, "gridOpacity": {"condition": {"test": "round(datum.value*10) % 5 == 0", "value": 1}, "value": 0},
                         "tickSize": -5, "labelPadding": 7, "title": "O/E", "titlePadding": 17}},
          "y": {"field": "y", "type": "quantitative", "scale": {"domain": [0, 1.5], "nice": false, "zero": false},
                "axis": {"orient": "left", "values": [0, 0.1, 0.2, 0.3, 0.4, 0.5, 0.6, 0.7, 0.8, 0.9, 1, 1.1, 1.2, 1.3, 1.4, 1.5],
                         "labelExpr": "round(datum.value*10) % 5 == 0 ? format(datum.value, '.1f') : ''",
                         "grid": true, "gridOpacity": {"condition": {"test": "round(datum.value*10) % 5 == 0", "value": 1}, "value": 0},
                         "tickSize": -5, "labelPadding": 12, "title": "2011 WSII (Rescaled)", "titlePadding": 24}}
        }
      },
      {
        "data": {"name": "fit"},
        "mark": {"type": "line", "color": "black", "strokeWidth": 1.4},
        "encoding": {
          "x": {"field": "x", "type": "quantitative", "scale": {"domain": [0, 1.5], "nice": false, "zero": false},
                "axis": {"orient": "top", "values": [0.1, 0.2, 0.3, 0.4, 0.5, 0.6, 0.7, 0.8, 0.9, 1, 1.1, 1.2, 1.3, 1.4], "labels": false, "grid": false, "tickSize": -5, "title": null}},
          "y": {"field": "y", "type": "quantitative", "scale": {"domain": [0, 1.5], "nice": false, "zero": false},
                "axis": {"orient": "right", "values": [0.1, 0.2, 0.3, 0.4, 0.5, 0.6, 0.7, 0.8, 0.9, 1, 1.1, 1.2, 1.3, 1.4], "labels": false, "grid": false, "tickSize": -5, "title": null}}
        }
      },
      {
        "data": {"name": "diag"},
        "mark": {"type": "line", "color": "#222222", "strokeWidth": 0.9, "strokeDash": [9, 5]},
        "encoding": {
          "x": {"field": "x", "type": "quantitative", "axis": null},
          "y": {"field": "y", "type": "quantitative", "axis": null}
        }
      },
      {
        "data": {"name": "eq"},
        "mark": {"type": "text", "align": "left", "baseline": "middle", "font": "Liberation Sans, sans-serif", "fontSize": 16, "color": "black"},
        "encoding": {
          "x": {"field": "x", "type": "quantitative", "axis": null},
          "y": {"field": "y", "type": "quantitative", "axis": null},
          "text": {"field": "label"}
        }
      }
    ],
    "resolve": {"axis": {"x": "independent", "y": "independent"}}
  },
  {
    "width": 153, "height": 437,
    "data": {"name": "yhist"},
    "layer": [
      {
        "mark": {"type": "rect", "color": "black"},
        "encoding": {
          "y": {"field": "y0", "type": "quantitative", "scale": {"domain": [0, 1.5], "nice": false, "zero": false},
                "axis": {"orient": "left", "values": [0.11538, 0.23077, 0.34615, 0.46154, 0.57692, 0.69231, 0.80769, 0.92308, 1.03846, 1.15385, 1.26923, 1.38462], "labels": false, "title": null, "grid": false, "tickSize": -5}},
          "y2": {"field": "y1"},
          "x": {"field": "count", "type": "quantitative", "scale": {"domain": [0, 400], "nice": false},
                "axis": {"orient": "bottom", "values": [0, 200, 400], "title": null, "ticks": false, "grid": true, "gridOpacity": {"condition": {"test": "datum.value == 200", "value": 1}, "value": 0}, "labelPadding": 3}},
          "x2": {"datum": 0}
        }
      },
      {
        "mark": {"type": "rect", "color": "black"},
        "encoding": {
          "y": {"field": "y0", "type": "quantitative", "scale": {"domain": [0, 1.5], "nice": false, "zero": false},
                "axis": {"orient": "right", "values": [0.11538, 0.23077, 0.34615, 0.46154, 0.57692, 0.69231, 0.80769, 0.92308, 1.03846, 1.15385, 1.26923, 1.38462], "labels": false, "title": null, "grid": false, "tickSize": -5}},
          "y2": {"field": "y1"},
          "x": {"field": "count", "type": "quantitative", "scale": {"domain": [0, 400], "nice": false},
                "axis": {"orient": "bottom", "values": [0, 200, 400], "title": null, "ticks": false, "grid": true, "gridOpacity": {"condition": {"test": "datum.value == 200", "value": 1}, "value": 0}, "labelPadding": 3}},
          "x2": {"datum": 0}
        }
      }
    ],
    "resolve": {"axis": {"y": "independent"}}
  }
]
}
